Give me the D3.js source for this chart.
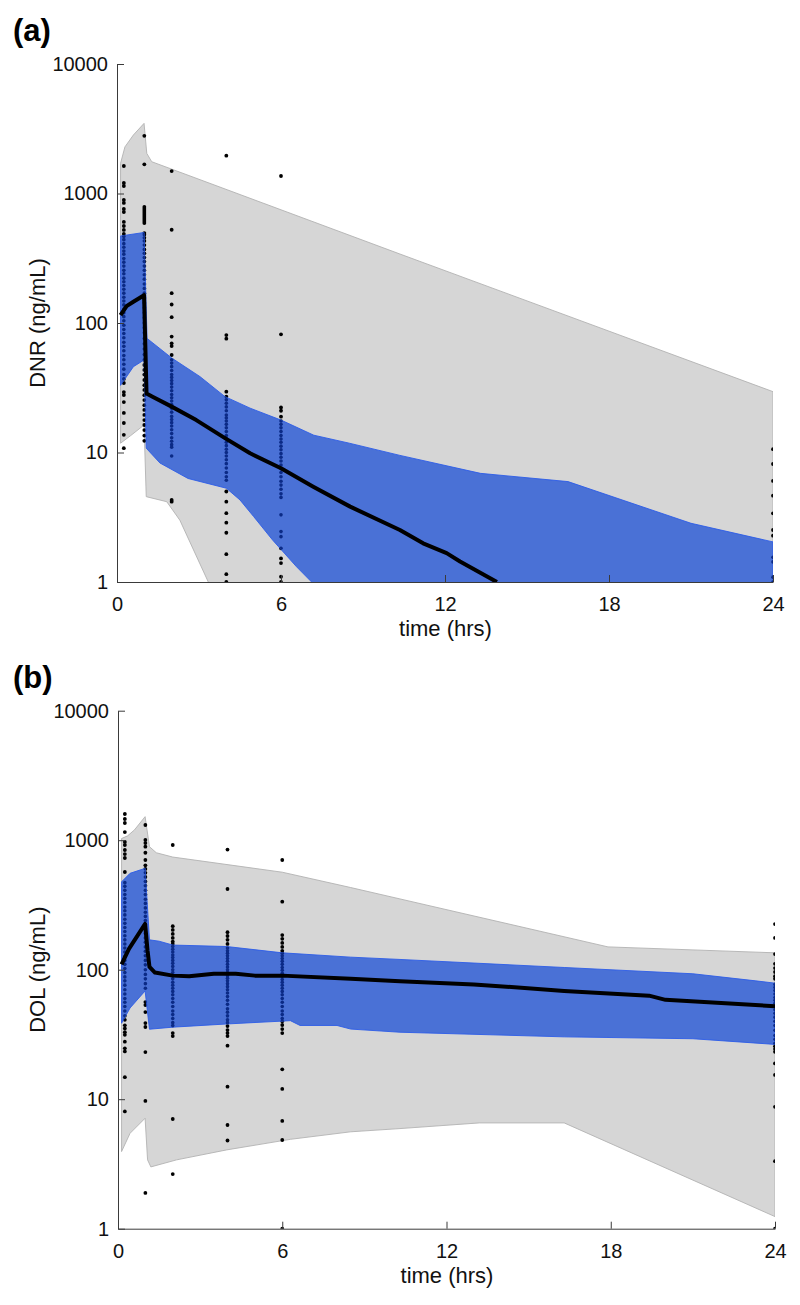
<!DOCTYPE html>
<html><head><meta charset="utf-8">
<script src="https://cdn.jsdelivr.net/npm/d3@7"></script>
<style>
body{margin:0;background:#fff;}
svg{display:block;font-family:"Liberation Sans",Arial,Helvetica,sans-serif;}
</style></head>
<body><svg id="chart" width="800" height="1305"></svg>
<script>
// ---------------- DATA ----------------
const xTicks = [0, 6, 12, 18, 24];
const yTicks = [1, 10, 100, 1000, 10000];

// Panel (a) DNR : [time (h), concentration (ng/mL)]
const dnrGrayUpper = [[0.13,1710],[0.29,2290],[0.6,2830],[0.99,3480],[1.09,2040],[1.27,1760],[10.35,341],[24,29.5]];
const dnrGrayLower = [[0.13,11.8],[0.5,13.5],[0.99,16.3],[1.07,4.56],[1.82,4.17],[2.3,3.0],[3.34,1.0],[4,0.5],[24,0.05]];
const dnrBlueUpper = [[0.13,470],[0.99,500],[1.1,76],[2.0,53.7],[3.04,38.5],[3.95,27],[4.87,22],[6.0,17.8],[7.2,13.6],[8.5,11.8],[10.35,9.5],[13.3,6.9],[16.5,5.96],[21.0,2.84],[24,2.04]];
const dnrBlueLower = [[0.13,33],[0.6,46],[0.99,51.8],[1.07,10.8],[1.57,8.3],[2.6,6.3],[4.0,5.3],[4.5,4.3],[5.0,3.2],[5.7,2.1],[6.57,1.31],[7.12,1.0],[8,0.6],[24,0.02]];
const dnrMedian = [[0.13,115],[0.35,135],[0.6,146],[0.99,164],[1.08,28.6],[1.3,27],[2.0,22.6],[2.9,17.8],[3.95,12.9],[4.87,9.86],[6.0,7.55],[7.18,5.45],[8.53,3.82],[10.35,2.52],[11.2,1.99],[12.06,1.67],[12.55,1.44],[13.9,1.0]];
const dnrObsTimes = [0.25, 1, 2, 4, 6, 24];
const dnrObs_025 = [1630,1205,1143,891,846,760,720,603,561,523,487,465,440,410,385,360,340,315,295,275,255,240,222,208,195,182,170,158,148,138,128,120,112,104,96,89,83,77,71,66,61,56,52,48,44,40,37,34.4,29.3,27.8,24.5,20.2,16.9,13.7,10.8];
const dnrObs_1 = [2790,1680,787,760,733,708,683,659,636,613,592,495,480,455,430,400,370,345,320,298,275,255,236,218,200,185,170,156,143,131,120,110,100,92,84,76,69,63,57,52,47.4,43.4,40,36.3,33.1,30.4,27.7,25.4,23.2,21.3,19.5,17.8,16.3,14.9,13.5,12.3];
const dnrObs_2 = [1490,525,170,139,111,78.5,69.7,66.4,56.6,52,49,46,43,40,38,36,34,32,30,28,26.5,25,23.5,22,20.5,19,18,17,16,15,14,13,12.2,11.5,11,9.4,4.3,4.17];
const dnrObs_4 = [1960,80.7,75.7,29.5,27,25.5,24,22.5,21,19.5,18.5,17.5,16.5,15.5,14.5,13.5,12.8,12,11.3,10.6,10,9.4,8.8,8.2,7.6,7,6.5,6.1,5.0,4.17,3.4,2.87,2.4,1.64,1.15,1.0];
const dnrObs_6 = [1365,81.8,22.3,21.0,18.9,17.5,16.5,15.5,14.5,13.5,12.7,12,11.2,10.5,9.8,9.2,8.6,8,7.5,7,6.5,6,5.6,5.2,4.8,4.5,3.3,2.45,2.24,1.82,1.52,1.4,1.1,1.0];
const dnrObs_24 = [10.6,8.15,6.03,4.64,3.39,2.52,2.28,1.55,1.43,1.09,1.0];

// Panel (b) DOL
const dolGrayUpper = [[0.13,1030],[0.35,1080],[0.6,1200],[0.99,1520],[1.15,891],[1.4,800],[2,741],[6,566],[8.5,431],[10.3,352],[17.9,150],[24,135]];
const dolGrayLower = [[0.13,3.94],[0.44,5.45],[0.99,7.13],[1.08,3.4],[1.2,3.0],[2.14,3.4],[3.97,4.06],[6.3,4.9],[8.5,5.6],[10.3,5.93],[13.2,6.56],[16.3,6.56],[24,1.24]];
const dolBlueUpper = [[0.13,477],[0.44,555],[0.99,606],[1.15,170],[1.5,166],[2,155],[3.97,151],[6,135],[8.5,125],[10.3,120],[16.3,104],[21,93],[23.3,82],[24,78.7]];
const dolBlueLower = [[0.13,38.6],[0.44,50.6],[0.99,68.6],[1.15,34.7],[2,36],[3.97,38.1],[6.3,40.4],[6.65,37.1],[8,37.1],[8.5,34.8],[10.3,32.9],[16.3,30.3],[21,29.3],[24,26.5]];
const dolMedian = [[0.13,110],[0.4,145],[0.99,226],[1.08,140],[1.15,105],[1.35,95],[2.0,90],[2.6,89],[3.5,93],[4.3,93],[5,90],[6,90],[8.5,85],[10.3,81.4],[13,77],[16.3,68.6],[19.4,63],[20,58.5],[24,52.2]];
const dolObsTimes = [0.25, 1, 2, 4, 6, 24];
const dolObs_025 = [1594,1458,1358,1156,969,918,840,782,729,568,470,440,410,380,355,330,305,285,265,245,228,212,197,183,170,158,147,137,127,118,110,102,95,88,82,76,70,65,60,56,52,48,44,41,37.2,35.2,32.9,31.4,27.8,24.7,23.4,14.8,8.05];
const dolObs_1 = [1310,1004,951,891,800,703,640,600,560,520,480,445,410,380,350,325,300,278,258,240,222,206,190,176,163,150,139,128,118,109,100,92,85,78,72,56.2,53.3,47.1,38.7,36.1,23.1,9.7,1.89];
const dolObs_2 = [918,217,203,189,176,165,158,151,144,137,130,124,118,112,106,100,95,90,85,80,76,72,68,64,60,56,52,48,45,42,39,37,32.4,30.7,7.03,2.64];
const dolObs_4 = [847,420,195,182,170,158,147,140,134,128,122,116,110,105,100,95,90,86,82,78,74,70,66,62,58,54,50,47,44,41,39,36.7,34.2,32.4,30.7,25.9,12.5,6.32,4.8];
const dolObs_6 = [703,335,185,173,161,150,140,134,128,122,116,110,104,99,94,89,84,80,76,72,68,64,60,56,52,48,45,42,40,37.4,34.8,32.4,17.0,12.0,6.8,4.84,1.0];
const dolObs_24 = [225,176,132,111,103,96,89,85,77,73,69,65,61,58,55,52,49,46,43,40,37,34,31,29,27,25.6,24.4,23.2,18.9,15.4,8.73,3.32,1.0];

// ---------------- DRAW ----------------
const svg = d3.select("#chart");
svg.append("rect").attr("width",800).attr("height",1305).attr("fill","#fff");

function panel(o){
  const x = d3.scaleLinear().domain([0,24]).range(o.xr);
  const y = d3.scaleLog().domain([1,10000]).range(o.yr);
  const g = svg.append("g");
  const id = o.id;
  const defs = g.append("defs");
  defs.append("clipPath").attr("id","plot"+id).append("rect")
    .attr("x",o.xr[0]).attr("y",o.yr[1]).attr("width",o.xr[1]-o.xr[0]).attr("height",o.yr[0]-o.yr[1]);
  const line = d3.line().x(d=>x(d[0])).y(d=>y(d[1]));
  const grayPoly = line(o.grayU.concat(o.grayL.slice().reverse())) + "Z";
  const bluePoly = line(o.blueU.concat(o.blueL.slice().reverse())) + "Z";
  defs.append("clipPath").attr("id","blue"+id).append("path").attr("d",bluePoly);

  const plot = g.append("g").attr("clip-path","url(#plot"+id+")");
  plot.append("path").attr("d",grayPoly).attr("fill","#d6d6d6").attr("stroke","#b2b2b2").attr("stroke-width",0.9);

  const pts = [];
  o.obsTimes.forEach((t,i)=>o.obs[i].forEach(v=>pts.push([t,v])));
  plot.append("g").selectAll("circle").data(pts).join("circle")
    .attr("cx",d=>x(d[0])).attr("cy",d=>y(d[1])).attr("r",1.9).attr("fill","#000");

  plot.append("path").attr("d",bluePoly).attr("fill","#4a71d6").attr("stroke","#2d5ce8").attr("stroke-width",0.9);

  plot.append("g").attr("clip-path","url(#blue"+id+")")
    .selectAll("circle").data(pts).join("circle")
    .attr("cx",d=>x(d[0])).attr("cy",d=>y(d[1])).attr("r",1.8).attr("fill","#0b2a86");

  plot.append("path").attr("d",line(o.median)).attr("fill","none")
    .attr("stroke","#000").attr("stroke-width",4).attr("stroke-linejoin","round");

  const ya = g.append("g").attr("transform",`translate(${o.xr[0]},0)`)
    .call(d3.axisLeft(y).tickValues(yTicks).tickFormat(d3.format("d")).tickSizeInner(-7).tickSizeOuter(0).tickPadding(9));
  const xa = g.append("g").attr("transform",`translate(0,${o.yr[0]})`)
    .call(d3.axisBottom(x).tickValues(xTicks).tickSizeInner(-7).tickSizeOuter(0).tickPadding(15));
  [ya,xa].forEach(a=>{
    a.selectAll("path,line").attr("stroke","#3a3a3a").attr("stroke-width",1);
    a.selectAll("text").attr("font-size",20).attr("fill","#111")
      .attr("font-family","'Liberation Sans',Arial,sans-serif");
  });

  g.append("text").attr("x",(o.xr[0]+o.xr[1])/2+0.5).attr("y",o.yr[0]+54)
    .attr("text-anchor","middle").attr("font-size",22).attr("fill","#111").text("time (hrs)");
  g.append("text").attr("transform",`translate(45,${(o.yr[0]+o.yr[1])/2}) rotate(-90)`)
    .attr("text-anchor","middle").attr("font-size",22).attr("fill","#111").text(o.ylabel);
  g.append("text").attr("x",13).attr("y",o.yr[1]-23).attr("font-size",31).attr("font-weight","bold")
    .attr("fill","#000").text(o.tag);
}

panel({id:"a", xr:[117,773], yr:[582,64],
  grayU:dnrGrayUpper, grayL:dnrGrayLower, blueU:dnrBlueUpper, blueL:dnrBlueLower, median:dnrMedian,
  obsTimes:dnrObsTimes, obs:[dnrObs_025,dnrObs_1,dnrObs_2,dnrObs_4,dnrObs_6,dnrObs_24],
  ylabel:"DNR (ng/mL)", tag:"(a)"});
panel({id:"b", xr:[118,775], yr:[1228.7,710.7],
  grayU:dolGrayUpper, grayL:dolGrayLower, blueU:dolBlueUpper, blueL:dolBlueLower, median:dolMedian,
  obsTimes:dolObsTimes, obs:[dolObs_025,dolObs_1,dolObs_2,dolObs_4,dolObs_6,dolObs_24],
  ylabel:"DOL (ng/mL)", tag:"(b)"});
</script></body></html>
